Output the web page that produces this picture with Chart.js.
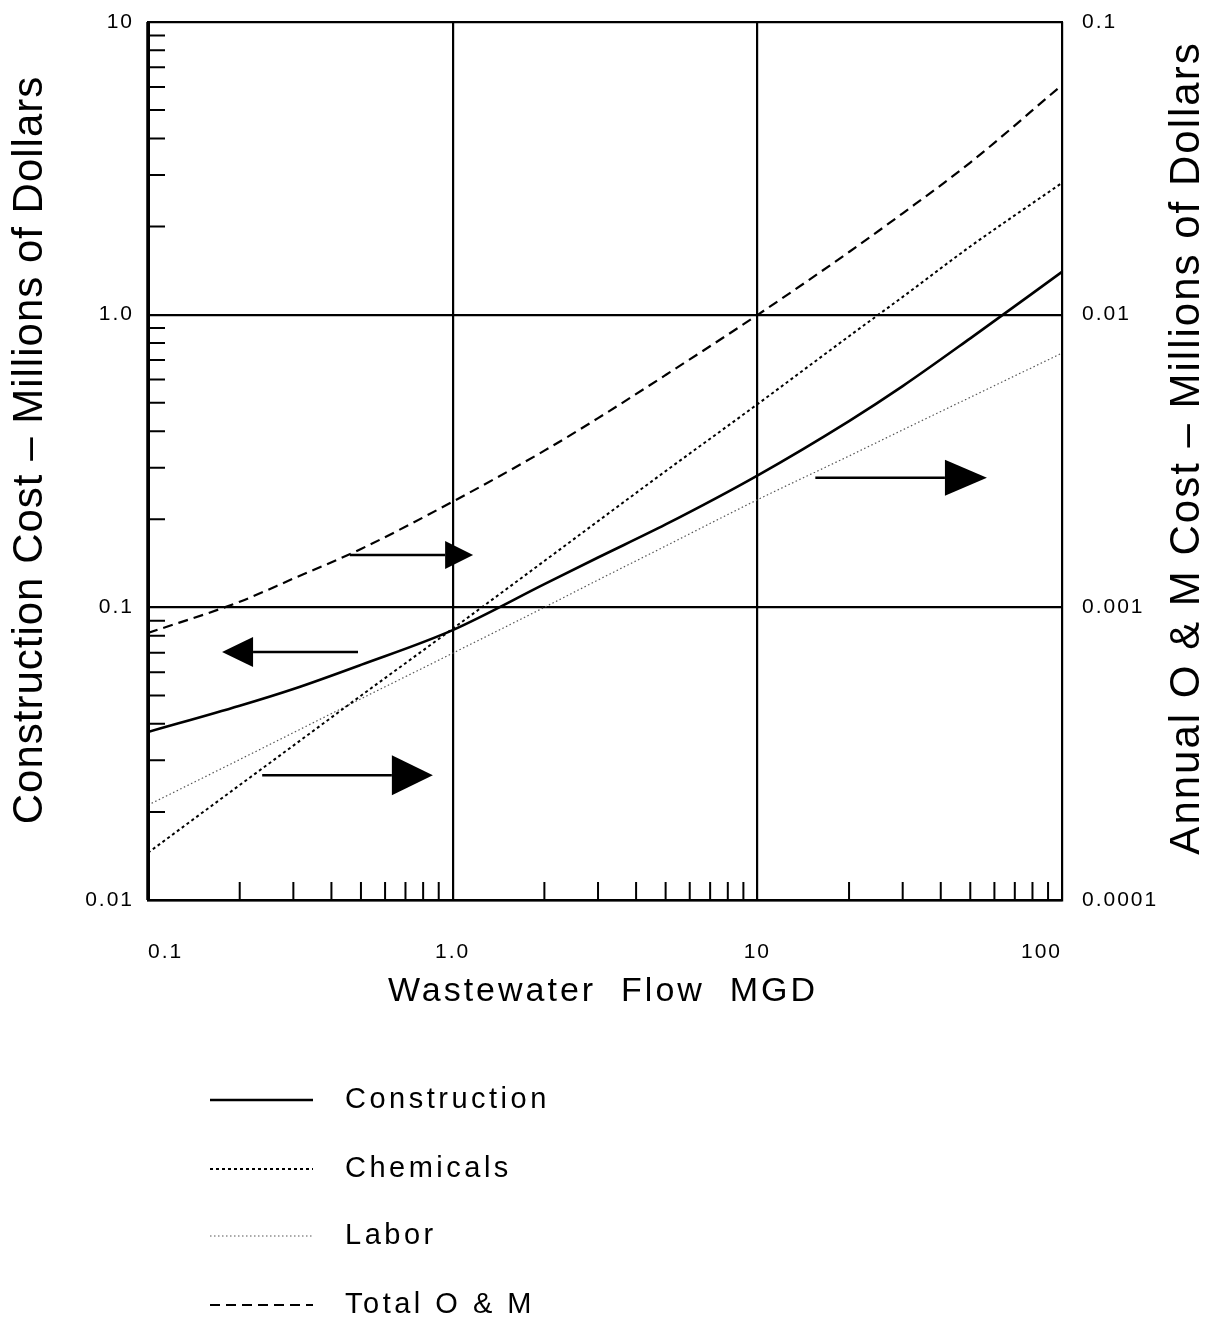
<!DOCTYPE html>
<html>
<head>
<meta charset="utf-8">
<script src="https://cdn.jsdelivr.net/npm/chart.js@4/dist/chart.umd.min.js"></script>
<style>
  body { margin: 0; background: #fff; }
  canvas { display: block; }
</style>
</head>
<body>
<canvas id="cost-chart" width="1209" height="1322"></canvas>
<script>
// wastewater flow, MGD
const flow = [0.1, 0.2, 0.3, 0.5, 1, 2, 3, 5, 10, 20, 30, 50, 100];

// construction cost, millions of dollars (left axis)
const construction = [0.0375, 0.0461, 0.0526, 0.0636, 0.0836, 0.120, 0.148, 0.192, 0.282, 0.433, 0.570, 0.830, 1.40];

// annual O & M cost, millions of dollars (right axis)
const chemicals = [0.000145, 0.000247, 0.000337, 0.000499, 0.000845, 0.00144, 0.00197, 0.00292, 0.00494, 0.00844, 0.0115, 0.0171, 0.0282];
const labor     = [0.000211, 0.000302, 0.000373, 0.000487, 0.000697, 0.00100, 0.00124, 0.00162, 0.00233, 0.00329, 0.00404, 0.00522, 0.00739];
const totalOM   = [0.000817, 0.001045, 0.001254, 0.001583, 0.002296, 0.00343, 0.00443, 0.00622, 0.00997, 0.01637, 0.0222, 0.0331, 0.0609];

const xTicks = [0.1, 1, 10, 100];
const xTickLabels = ['0.1', '1.0', '10', '100'];
const yTicks = [0.01, 0.1, 1, 10];
const yTickLabels = ['0.01', '0.1', '1.0', '10'];
const y2Ticks = [0.0001, 0.001, 0.01, 0.1];
const y2TickLabels = ['0.0001', '0.001', '0.01', '0.1'];

// arrows pointing to the axis each group of curves is read from (left-axis units)
const arrows = [
  { y: 0.277, from: 15.5, to: 56.7, head: 42, half: 18 },
  { y: 0.151, from: 0.46, to: 1.167, head: 28, half: 14 },
  { y: 0.0704, from: 0.489, to: 0.175, head: 31, half: 15 },
  { y: 0.0267, from: 0.237, to: 0.861, head: 41, half: 20 }
];

const FONT = "'Liberation Sans', Arial, Helvetica, sans-serif";
Chart.defaults.font.family = FONT;
Chart.defaults.color = '#000';

function pts(ys) {
  return flow.map((x, i) => ({ x: x, y: ys[i] }));
}

const series = [
  { label: 'Construction', data: construction, axis: 'y', width: 2.6, dash: [], color: '#000' },
  { label: 'Chemicals', data: chemicals, axis: 'y2', width: 2, dash: [3, 3], color: '#000' },
  { label: 'Labor', data: labor, axis: 'y2', width: 1.2, dash: [1.5, 2.5], color: '#555' },
  { label: 'Total O & M', data: totalOM, axis: 'y2', width: 2.2, dash: [10, 6], color: '#000' }
];

function fixedTicks(values) {
  return function(scale) {
    scale.ticks = values.map(v => ({ value: v }));
  };
}

function noPadding(scale) {
  scale.paddingTop = 0;
  scale.paddingBottom = 0;
  scale.paddingLeft = 0;
  scale.paddingRight = 0;
}

const decorations = {
  id: 'decorations',
  beforeDraw(chart) {
    chart.ctx.letterSpacing = '2px';
  },
  afterDraw(chart) {
    const ctx = chart.ctx;
    const xs = chart.scales.x;
    const ys = chart.scales.y;
    const area = chart.chartArea;

    ctx.save();
    ctx.strokeStyle = '#000';
    ctx.fillStyle = '#000';

    // minor ticks, inward, on left and bottom axes
    ctx.lineWidth = 2;
    ctx.beginPath();
    [0.1, 1, 10].forEach(d => {
      for (let k = 2; k <= 9; k++) {
        const px = xs.getPixelForValue(k * d);
        ctx.moveTo(px, area.bottom);
        ctx.lineTo(px, area.bottom - 18);
      }
    });
    [0.01, 0.1, 1].forEach(d => {
      for (let k = 2; k <= 9; k++) {
        const py = ys.getPixelForValue(k * d);
        ctx.moveTo(area.left, py);
        ctx.lineTo(area.left + 17, py);
      }
    });
    ctx.stroke();

    // heavier left frame
    ctx.lineWidth = 3.5;
    ctx.beginPath();
    ctx.moveTo(area.left, area.top);
    ctx.lineTo(area.left, area.bottom);
    ctx.stroke();

    // arrows
    arrows.forEach(a => {
      const py = ys.getPixelForValue(a.y);
      const x0 = xs.getPixelForValue(a.from);
      const x1 = xs.getPixelForValue(a.to);
      const dir = x1 > x0 ? 1 : -1;
      const base = x1 - dir * a.head;
      ctx.lineWidth = 2.5;
      ctx.beginPath();
      ctx.moveTo(x0, py);
      ctx.lineTo(base, py);
      ctx.stroke();
      ctx.beginPath();
      ctx.moveTo(x1, py);
      ctx.lineTo(base, py - a.half);
      ctx.lineTo(base, py + a.half);
      ctx.closePath();
      ctx.fill();
    });

    // axis titles
    ctx.textAlign = 'center';
    ctx.textBaseline = 'middle';
    ctx.font = '42px ' + FONT;
    ctx.letterSpacing = '1px';
    ctx.save();
    ctx.translate(30, 450);
    ctx.rotate(-Math.PI / 2);
    ctx.fillText('Construction Cost \u2013 Millions of Dollars', 0, 0);
    ctx.restore();

    ctx.letterSpacing = '2px';
    ctx.save();
    ctx.translate(1187, 448);
    ctx.rotate(-Math.PI / 2);
    ctx.fillText('Annual O & M Cost \u2013 Millions of Dollars', 0, 0);
    ctx.restore();

    ctx.font = '34px ' + FONT;
    ctx.letterSpacing = '3px';
    ctx.fillText('Wastewater  Flow  MGD', 603, 992);

    // legend
    const rows = [1100, 1169, 1236, 1305];
    ctx.font = '29px ' + FONT;
    ctx.letterSpacing = '3.5px';
    ctx.textAlign = 'left';
    series.forEach((s, i) => {
      ctx.lineWidth = s.width;
      ctx.strokeStyle = s.color;
      ctx.setLineDash(s.dash);
      ctx.beginPath();
      ctx.moveTo(210, rows[i]);
      ctx.lineTo(313, rows[i]);
      ctx.stroke();
      ctx.setLineDash([]);
      ctx.fillText(s.label, 345, rows[i]);
    });
    ctx.restore();
  }
};

new Chart('cost-chart', {
  type: 'line',
  data: {
    datasets: series.map(s => ({
      label: s.label,
      data: pts(s.data),
      yAxisID: s.axis,
      borderColor: s.color,
      borderWidth: s.width,
      borderDash: s.dash,
      pointRadius: 0,
      cubicInterpolationMode: 'monotone',
      fill: false
    }))
  },
  options: {
    responsive: false,
    animation: false,
    devicePixelRatio: 1,
    layout: { padding: { top: 22, left: 0, right: 0, bottom: 0 } },
    plugins: {
      legend: { display: false },
      tooltip: { enabled: false }
    },
    scales: {
      x: {
        type: 'logarithmic',
        min: 0.1,
        max: 100,
        afterBuildTicks: fixedTicks(xTicks),
        afterFit(scale) { scale.height = 422; noPadding(scale); },
        grid: { color: '#000', lineWidth: 2.2, drawTicks: false },
        border: { color: '#000', width: 2.5 },
        ticks: {
          autoSkip: false,
          maxRotation: 0,
          align: 'inner',
          padding: 40,
          font: { size: 21 },
          callback: (v, i) => xTickLabels[i]
        }
      },
      y: {
        type: 'logarithmic',
        position: 'left',
        min: 0.01,
        max: 10,
        afterBuildTicks: fixedTicks(yTicks),
        afterFit(scale) { scale.width = 148; noPadding(scale); },
        grid: { color: '#000', lineWidth: 2.2, drawTicks: false },
        border: { color: '#000', width: 3 },
        ticks: {
          autoSkip: false,
          padding: 14,
          font: { size: 21 },
          callback: (v, i) => yTickLabels[i]
        }
      },
      y2: {
        type: 'logarithmic',
        position: 'right',
        min: 0.0001,
        max: 0.1,
        afterBuildTicks: fixedTicks(y2Ticks),
        afterFit(scale) { scale.width = 147; noPadding(scale); },
        grid: { display: false, drawTicks: false },
        border: { color: '#000', width: 2 },
        ticks: {
          autoSkip: false,
          padding: 20,
          font: { size: 21 },
          callback: (v, i) => y2TickLabels[i]
        }
      }
    }
  },
  plugins: [decorations]
});
</script>
</body>
</html>
